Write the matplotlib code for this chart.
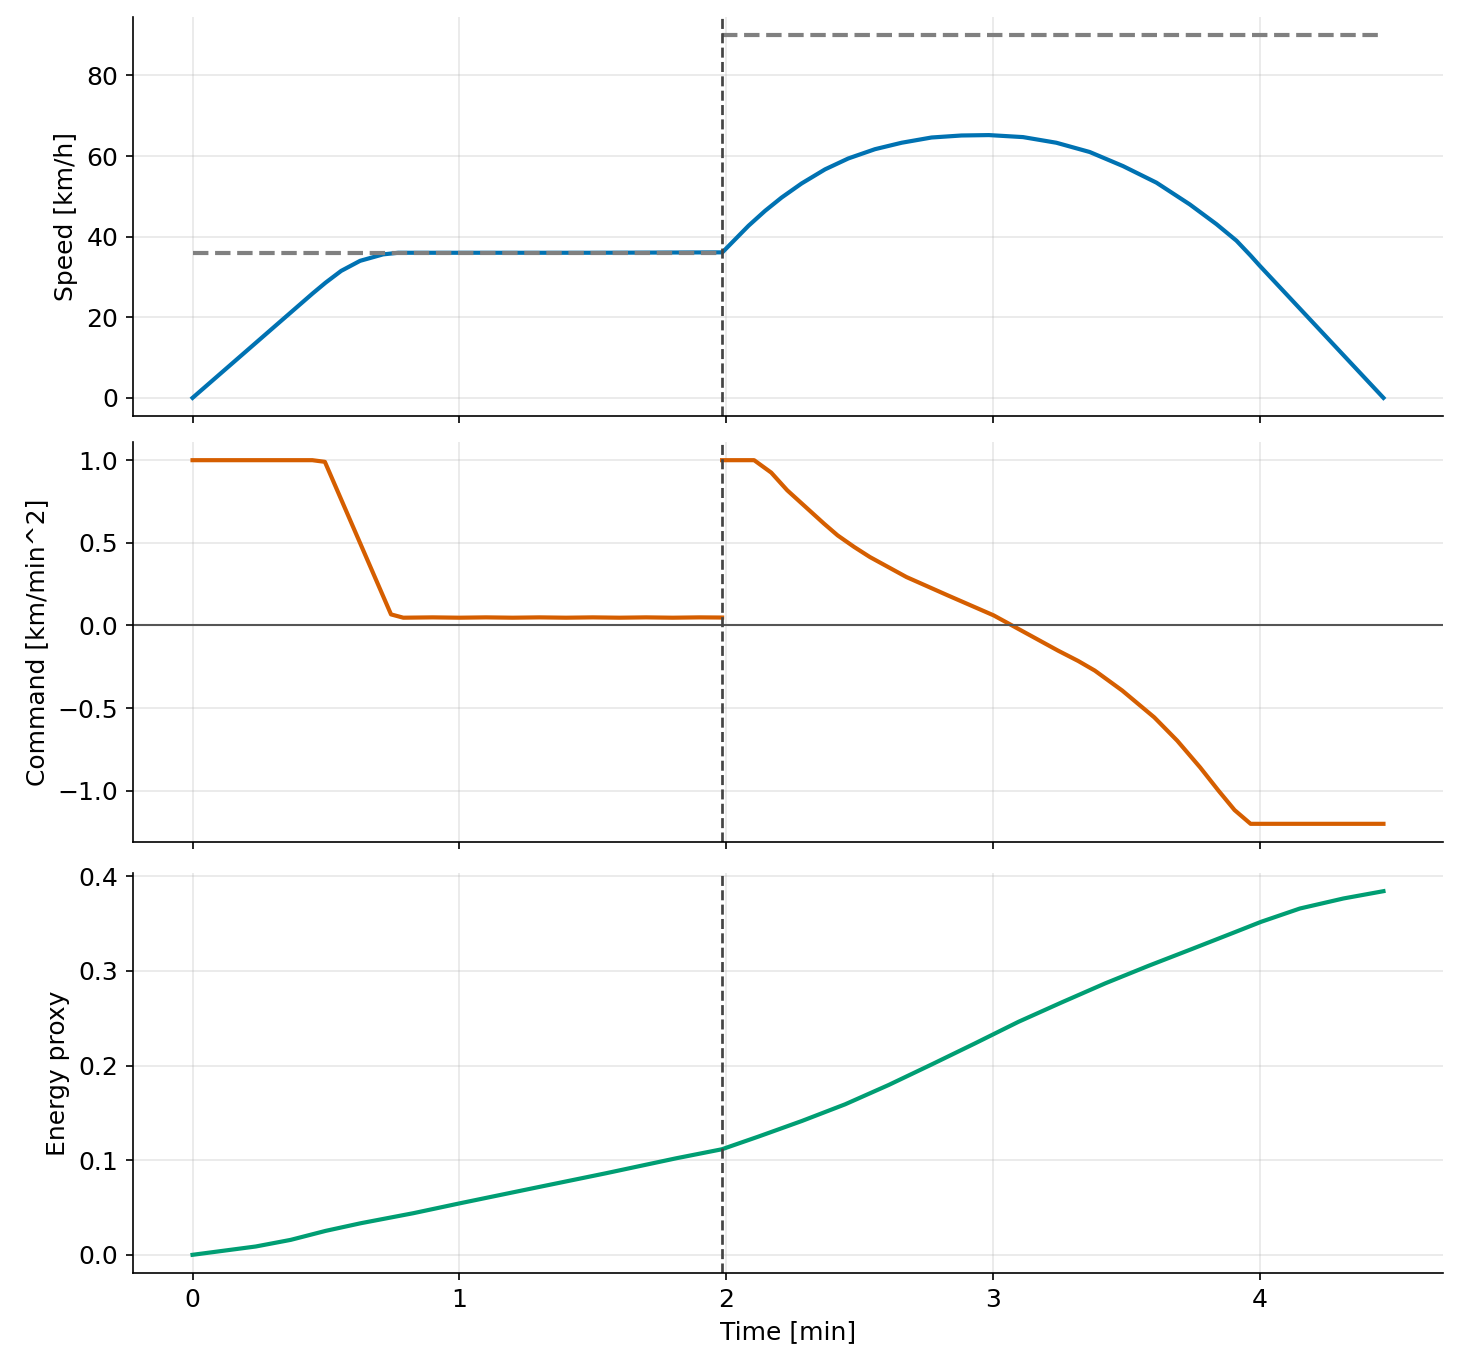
import matplotlib
matplotlib.use("Agg")
import matplotlib.pyplot as plt

# ---------------- data ----------------
t_switch = 1.985

t_speed = [0.0, 0.45, 0.499, 0.557, 0.628, 0.714, 0.771, 0.85, 1.0, 1.5, 1.986,
           2.084, 2.146, 2.208, 2.283, 2.371, 2.458, 2.558, 2.658, 2.77, 2.882,
           2.985, 3.113, 3.238, 3.363, 3.488, 3.613, 3.738, 3.838, 3.913,
           3.966, 4.0, 4.464]
speed = [0.0, 25.9, 28.6, 31.5, 34.0, 35.6, 36.0, 36.0, 36.0, 36.0, 36.1,
         42.7, 46.4, 49.7, 53.2, 56.7, 59.4, 61.7, 63.3, 64.6, 65.1,
         65.2, 64.7, 63.3, 61.0, 57.5, 53.4, 48.0, 43.1, 39.0,
         35.3, 32.8, 0.0]

t_limit1 = [0.0, 1.985]
limit1 = [36, 36]
t_limit2 = [1.985, 4.464]
limit2 = [90, 90]

t_cmd1 = [0.0, 0.449, 0.496, 0.744, 0.79, 0.9, 1.0, 1.1, 1.2, 1.3, 1.4, 1.5,
          1.6, 1.7, 1.8, 1.9, 1.985]
cmd1 = [1.0, 1.0, 0.99, 0.067, 0.047, 0.049, 0.047, 0.049, 0.047, 0.049,
        0.047, 0.049, 0.047, 0.049, 0.047, 0.049, 0.048]

t_cmd2 = [1.985, 2.105, 2.169, 2.229, 2.298, 2.367, 2.418, 2.48, 2.539, 2.676,
          2.831, 3.003, 3.072, 3.244, 3.32, 3.382, 3.485, 3.605, 3.691, 3.777,
          3.846, 3.906, 3.966, 4.464]
cmd2 = [1.0, 1.0, 0.925, 0.818, 0.717, 0.616, 0.545, 0.475, 0.414, 0.293,
        0.182, 0.061, 0.0, -0.152, -0.215, -0.273, -0.394, -0.556, -0.697, -0.859,
        -1.0, -1.117, -1.2, -1.2]

t_energy = [0.0, 0.105, 0.237, 0.368, 0.499, 0.631, 0.828, 1.005, 1.287,
            1.55, 1.813, 1.984, 2.121, 2.284, 2.446, 2.609, 2.771, 2.933,
            3.096, 3.258, 3.421, 3.583, 3.745, 3.908, 4.005, 4.151, 4.314,
            4.464]
energy = [0.0, 0.0039, 0.0088, 0.0158, 0.0253, 0.0334, 0.044, 0.0546, 0.071,
          0.0862, 0.102, 0.1115, 0.1249, 0.1414, 0.159, 0.1794, 0.2012, 0.2234,
          0.2462, 0.2667, 0.2868, 0.3053, 0.323, 0.341, 0.3518, 0.3659, 0.3765,
          0.3842]

# ---------------- figure ----------------
plt.rcParams['font.family'] = ['DejaVu Sans']
plt.rcParams['font.size'] = 12
fig = plt.figure(figsize=(1460 / 150, 1370 / 150), dpi=150)

W, H = 1460, 1370
left = 133 / W
width = (1443 - 133) / W

def pos(top_px, bot_px):
    return [left, 1 - bot_px / H, width, (bot_px - top_px) / H]

ax1 = fig.add_axes(pos(17, 416))
ax2 = fig.add_axes(pos(442, 842), sharex=ax1)
ax3 = fig.add_axes(pos(873, 1273), sharex=ax1)

blue = '#0072B2'
orange = '#D55E00'
green = '#009E73'

ax1.plot(t_speed, speed, color=blue, lw=2)
ax1.plot(t_limit1, limit1, color='gray', lw=2, ls='--')
ax1.plot(t_limit2, limit2, color='gray', lw=2, ls='--')
ax1.set_ylabel('Speed [km/h]')
ax1.set_yticks([0, 20, 40, 60, 80])

ax2.plot(t_cmd1, cmd1, color=orange, lw=2)
ax2.plot(t_cmd2, cmd2, color=orange, lw=2)
ax2.axhline(0, color='#555555', lw=1)
ax2.set_ylabel('Command [km/min^2]')
ax2.set_yticks([-1.0, -0.5, 0.0, 0.5, 1.0])

ax3.plot(t_energy, energy, color=green, lw=2)
ax3.set_ylabel('Energy proxy')
ax3.set_xlabel('Time [min]')
ax3.set_yticks([0.0, 0.1, 0.2, 0.3, 0.4])

for ax in (ax1, ax2, ax3):
    ax.axvline(t_switch, color='#444444', lw=1.3, ls='--')
    ax.grid(True, alpha=0.3)
    ax.spines['top'].set_visible(False)
    ax.spines['right'].set_visible(False)

ax1.tick_params(labelbottom=False)
ax2.tick_params(labelbottom=False)
ax3.set_xticks([0, 1, 2, 3, 4])

fig.savefig('out.png', dpi=150)
